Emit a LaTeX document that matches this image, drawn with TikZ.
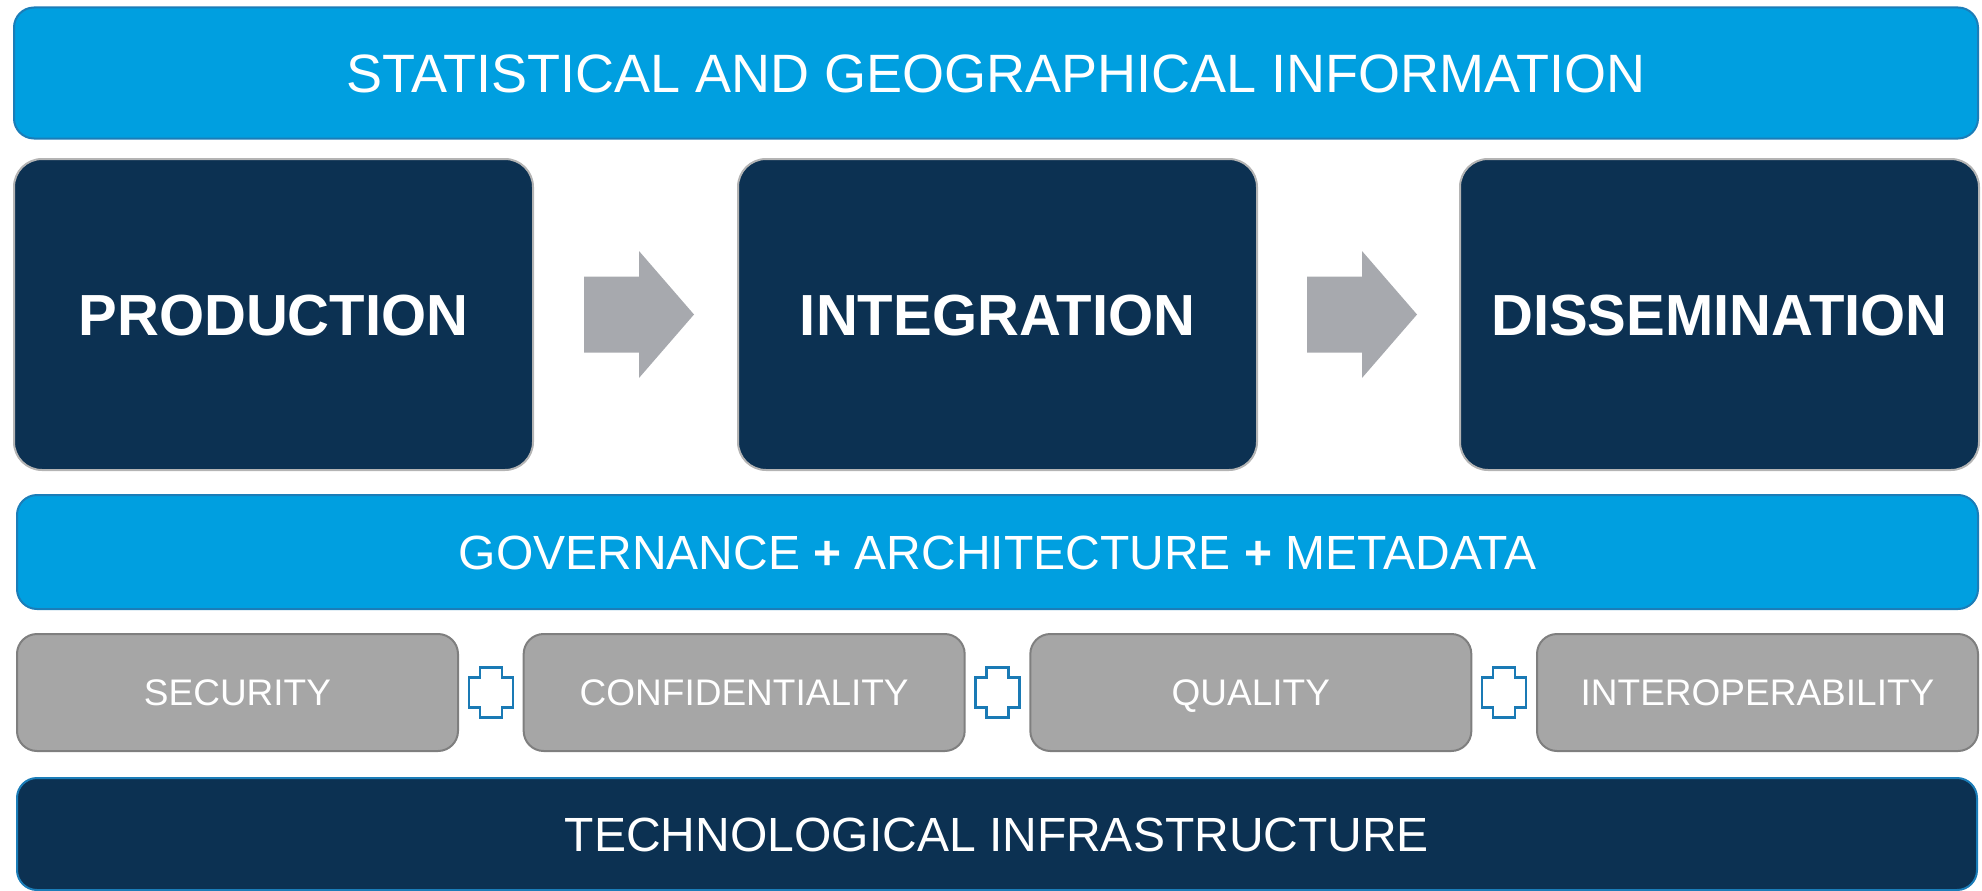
\documentclass[tikz,border=0pt]{standalone}
\usepackage{fontspec}
\setmainfont{Liberation Sans}
\usetikzlibrary{calc}
\definecolor{skyblue}{HTML}{009FE0}
\definecolor{skyedge}{HTML}{1B7DB8}
\definecolor{navy}{HTML}{0C3152}
\definecolor{navyedge}{HTML}{B4B4B4}
\definecolor{greyfill}{HTML}{A6A6A6}
\definecolor{greyedge}{HTML}{7F7F7F}
\definecolor{arrowgrey}{HTML}{A7A9AE}
\definecolor{plusblue}{HTML}{1A7AB5}
\begin{document}
\begin{tikzpicture}[x=1pt,y=-1pt,
  box/.style={inner sep=0pt, outer sep=0pt, text=white, align=center, line width=2pt,
    text depth=0pt},
  bluebar/.style={box, fill=skyblue, draw=skyedge, rounded corners=20pt},
  stage/.style={box, fill=navy, draw=navyedge, rounded corners=28pt,
    minimum width=519pt, minimum height=311pt, text height=41.5pt,
    font=\fontsize{58}{68}\selectfont\bfseries},
  pillar/.style={box, fill=greyfill, draw=greyedge, rounded corners=20pt,
    minimum width=441pt, minimum height=117pt, text height=26.5pt,
    font=\fontsize{37}{44}\selectfont},
  basebar/.style={box, fill=navy, draw=skyedge, rounded corners=20pt},
  blockarrow/.pic={\fill[arrowgrey]
    (-51.5,-38) -- (3.5,-38) -- (3.5,-63.5) -- (58.5,0) -- (3.5,63.5) -- (3.5,38)
    -- (-51.5,38) -- cycle;},
  plussign/.pic={\draw[plusblue, line width=2.5pt, fill=white]
    (-11,-25) -- (11,-25) -- (11,-15) -- (22,-15) -- (22,15) -- (11,15) -- (11,25)
    -- (-11,25) -- (-11,15) -- (-22,15) -- (-22,-15) -- (-11,-15) -- cycle;}
]
\useasboundingbox (0,0) rectangle (1982,891);

\node[bluebar, minimum width=1964pt, minimum height=131pt, text height=38.7pt,
  font=\fontsize{54}{64}\selectfont]
  (title) at (996,73) {STATISTICAL AND GEOGRAPHICAL INFORMATION};

\node[stage] (prod) at (273.5,314.5) {PRODUCTION};
\node[stage] (integ) at (997.5,314.5) {INTEGRATION};
\node[stage] (diss) at (1719.5,314.5) {DISSEMINATION};

\path ($(prod.east)!0.5!(integ.west)$) pic {blockarrow};
\path ($(integ.east)!0.5!(diss.west)$) pic {blockarrow};

\node[bluebar, minimum width=1961pt, minimum height=114pt, text height=34.4pt,
  font=\fontsize{48}{58}\selectfont]
  (gov) at (997.5,552) {GOVERNANCE \textbf{+} ARCHITECTURE \textbf{+} METADATA};

\node[pillar] (sec) at (237.5,692.5) {SECURITY};
\node[pillar] (conf) at (744.17,692.5) {CONFIDENTIALITY};
\node[pillar] (qual) at (1250.83,692.5) {QUALITY};
\node[pillar] (inter) at (1757.5,692.5) {INTEROPERABILITY};

\path ($(sec.east)!0.5!(conf.west)$) pic {plussign};
\path ($(conf.east)!0.5!(qual.west)$) pic {plussign};
\path ($(qual.east)!0.5!(inter.west)$) pic {plussign};

\node[basebar, minimum width=1960pt, minimum height=112pt, text height=34.4pt,
  font=\fontsize{48}{58}\selectfont]
  (tech) at (997,834) {TECHNOLOGICAL INFRASTRUCTURE};
\end{tikzpicture}
\end{document}
